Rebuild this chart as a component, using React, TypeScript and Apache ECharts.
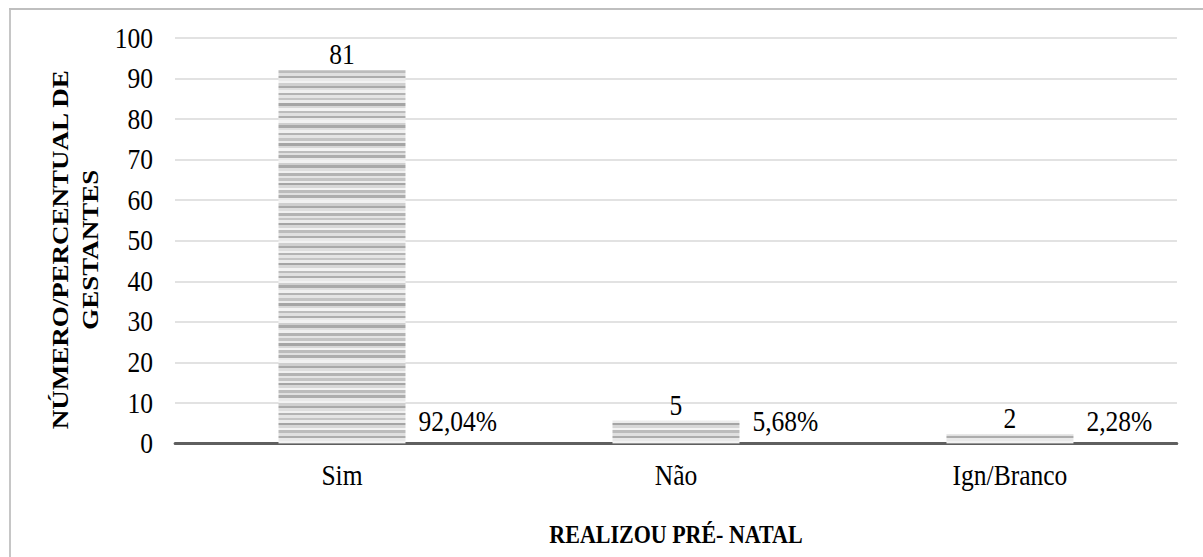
import React, { useEffect, useRef } from "react";
import * as echarts from "echarts";

const categories = ["Sim", "Não", "Ign/Branco"];
const percentages = [92.04, 5.68, 2.28];
const counts = [81, 5, 2];
const yTicks = [0, 10, 20, 30, 40, 50, 60, 70, 80, 90, 100];

const SERIF = "Liberation Serif";
// The chart is laid out on a wider canvas and squeezed horizontally to the page width.
const SQUEEZE = 0.88;
const PAGE_W = 1203;
const PAGE_H = 557;
const W = PAGE_W / SQUEEZE;
const sx = (v: number) => v / SQUEEZE;

// Horizontal gray stripes used to fill the bars
function stripeGradient() {
  const band = [
    "#e9e9e9", "#f2f2f2", "#cfcfcf", "#a9a9a9", "#dedede", "#f0f0f0", "#b3b3b3", "#e4e4e4",
    "#c4c4c4", "#ececec", "#a5a5a5", "#d7d7d7", "#f3f3f3", "#bcbcbc", "#e0e0e0", "#adadad",
  ];
  const stops: { offset: number; color: string }[] = [];
  const total = 406;
  const step = 2.5;
  let i = 0;
  for (let y = 0; y < total; y += step) {
    const c = band[i % band.length];
    stops.push({ offset: y / total, color: c });
    stops.push({ offset: Math.min(1, (y + step) / total), color: c });
    i++;
  }
  return new echarts.graphic.LinearGradient(0, 38, 0, 444, stops, true);
}

export default function App() {
  const ref = useRef<HTMLDivElement>(null);

  useEffect(() => {
    if (!ref.current) return;
    const chart = echarts.init(ref.current, null, { renderer: "svg" });
    const fill = stripeGradient();
    const barW = sx(127);
    chart.setOption({
      animation: false,
      backgroundColor: "#ffffff",
      textStyle: { fontFamily: SERIF },
      grid: { left: sx(175), right: W - sx(1177), top: 38, bottom: 113.5 },
      xAxis: {
        type: "category",
        data: categories,
        name: "REALIZOU PRÉ- NATAL",
        nameLocation: "middle",
        nameGap: 78,
        nameTextStyle: { fontFamily: SERIF, fontSize: 25, fontWeight: "bold", color: "#000" },
        axisLine: { lineStyle: { color: "#5f5f5f", width: 3 } },
        axisTick: { show: false },
        axisLabel: { fontFamily: SERIF, fontSize: 29, color: "#000", margin: 17 },
      },
      yAxis: {
        type: "value",
        min: yTicks[0],
        max: yTicks[yTicks.length - 1],
        interval: 10,
        name: "NÚMERO/PERCENTUAL DE\nGESTANTES",
        nameLocation: "middle",
        nameGap: 78,
        nameTextStyle: {
          fontFamily: SERIF,
          fontSize: 27,
          fontWeight: "bold",
          color: "#000",
          lineHeight: sx(30),
          padding: [0, 18, 0, 0],
        },
        axisLine: { show: false },
        axisTick: { show: false },
        axisLabel: { fontFamily: SERIF, fontSize: 29, color: "#000", margin: sx(22) },
        splitLine: { lineStyle: { color: "#d9d9d9", width: 1.5 } },
      },
      series: [
        {
          type: "bar",
          data: percentages,
          barWidth: barW,
          itemStyle: { color: fill },
          label: {
            show: true,
            position: "top",
            distance: 1,
            fontFamily: SERIF,
            fontSize: 29,
            color: "#000",
            formatter: (p: any) => String(counts[p.dataIndex]),
          },
          z: 2,
        },
        {
          type: "bar",
          data: percentages,
          barWidth: barW,
          barGap: "-100%",
          itemStyle: { color: "rgba(0,0,0,0)" },
          silent: true,
          label: {
            show: true,
            position: ["100%", "100%"],
            offset: [sx(13), -22],
            align: "left",
            verticalAlign: "middle",
            fontFamily: SERIF,
            fontSize: 29,
            color: "#000",
            formatter: (p: any) => p.value.toFixed(2).replace(".", ",") + "%",
          },
          z: 3,
        },
      ],
      graphic: [
        {
          type: "line",
          shape: { x1: sx(9), y1: 9, x2: W, y2: 9 },
          style: { stroke: "#bfbfbf", lineWidth: 2 },
        },
        {
          type: "line",
          shape: { x1: sx(10), y1: 8, x2: sx(10), y2: PAGE_H },
          style: { stroke: "#bfbfbf", lineWidth: 2 },
        },
      ],
    });
    return () => chart.dispose();
  }, []);

  return (
    <div style={{ position: "fixed", left: 0, top: 0, width: PAGE_W, height: PAGE_H, overflow: "hidden" }}>
      <div
        ref={ref}
        style={{
          width: W,
          height: PAGE_H,
          transform: `scaleX(${SQUEEZE})`,
          transformOrigin: "0 0",
        }}
      />
    </div>
  );
}
